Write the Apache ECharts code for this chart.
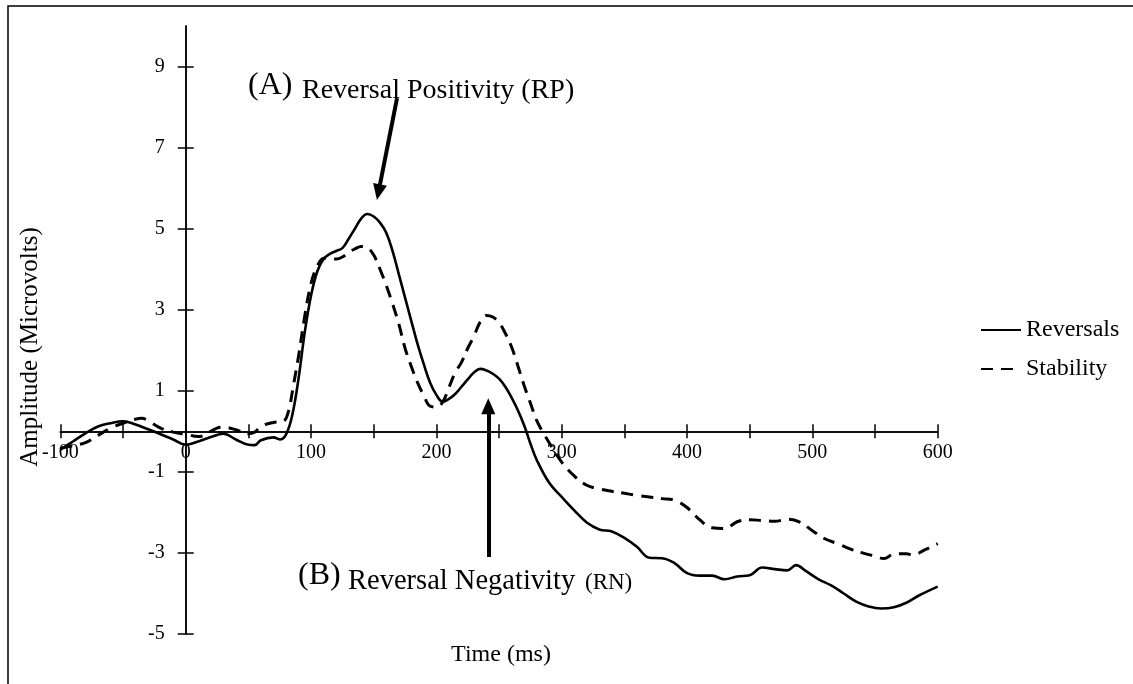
<!DOCTYPE html>
<html><head><meta charset="utf-8">
<script src="https://cdn.jsdelivr.net/npm/echarts@6/dist/echarts.min.js"></script>
<style>html,body{margin:0;padding:0;background:#fff}#c{width:1133px;height:684px}</style>
</head><body><div id="c"></div>
<script>
// ---- data ----
const revTime = [-100,-90,-80,-70,-60,-50,-40,-30,-20,-10,0,10,20,30,40,50,55,60,70,75,80,85,90,95,
  100,105,110,115,120,125,130,135,140,145,150,155,160,165,170,175,180,185,190,195,200,205,210,215,220,225,230,235,240,245,250,255,260,265,270,275,280,
  290,300,310,320,330,340,350,360,370,380,390,400,410,420,430,440,450,460,470,480,
  487,495,505,515,525,535,545,555,565,575,585,600];
const revAmp = [-0.45,-0.25,-0.05,0.12,0.2,0.25,0.17,0.05,-0.07,-0.2,-0.33,-0.25,-0.14,-0.06,-0.2,-0.33,-0.34,-0.22,-0.15,-0.2,-0.08,0.4,1.3,2.45,
  3.35,3.95,4.25,4.38,4.45,4.52,4.75,5.0,5.25,5.36,5.3,5.15,4.9,4.45,3.88,3.3,2.72,2.15,1.65,1.2,0.9,0.73,0.8,0.92,1.1,1.28,1.45,1.54,1.5,1.42,1.3,1.1,0.83,0.52,0.15,-0.3,-0.7,
  -1.27,-1.62,-1.95,-2.25,-2.42,-2.47,-2.63,-2.85,-3.12,-3.13,-3.25,-3.5,-3.56,-3.56,-3.65,-3.58,-3.55,-3.36,-3.4,-3.43,
  -3.3,-3.45,-3.65,-3.8,-4.0,-4.2,-4.32,-4.37,-4.34,-4.23,-4.05,-3.83];
const stabTime = [-100,-90,-80,-70,-60,-50,-40,-35,-30,-20,-10,0,10,20,25,30,40,50,55,60,70,78,82,86,
  90,95,100,105,110,115,120,125,130,135,140,145,150,155,160,165,170,175,180,185,190,195,200,205,210,215,220,225,230,235,240,245,250,255,260,265,270,275,280,285,290,
  300,310,320,330,340,350,360,370,380,390,400,410,420,430,440,450,460,470,480,490,500,510,520,530,540,550,
  557,565,575,580,590,600];
const stabAmp = [-0.42,-0.35,-0.28,-0.1,0.08,0.2,0.3,0.32,0.26,0.08,-0.02,-0.07,-0.13,0.0,0.08,0.1,0.04,-0.06,-0.02,0.12,0.22,0.25,0.5,1.15,
  1.85,2.85,3.65,4.08,4.27,4.28,4.25,4.3,4.42,4.5,4.56,4.53,4.35,4.0,3.6,3.15,2.65,2.05,1.6,1.2,0.88,0.62,0.6,0.72,1.08,1.45,1.7,2.05,2.35,2.7,2.86,2.82,2.68,2.42,2.08,1.62,1.13,0.7,0.27,-0.02,-0.28,
  -0.76,-1.1,-1.33,-1.42,-1.48,-1.53,-1.58,-1.62,-1.66,-1.7,-1.88,-2.18,-2.38,-2.4,-2.23,-2.18,-2.2,-2.22,-2.17,-2.24,-2.45,-2.65,-2.77,-2.9,-3.0,-3.08,
  -3.14,-3.03,-3.02,-3.05,-2.92,-2.77];
const yTicks = [-5,-3,-1,1,3,5,7,9];
const seriesNames = ['Reversals','Stability'];

const FONT = 'Liberation Serif';
const pair = (xs, ys) => xs.map((x,i)=>[x, ys[i]]);

// layout
const W = 1133, H = 684;
const G = {left:60.4, right:195.3, top:26, bottom:50};
const X_MIN = -100, X_MAX = 600, Y_MIN = -5, Y_MAX = 10;
const plotW = W - G.left - G.right, plotH = H - G.top - G.bottom;
// distance of the zero lines from the grid edges (axes cross at 0,0)
const zeroFromBottom = plotH * (0 - Y_MIN) / (Y_MAX - Y_MIN);
const zeroFromTop = plotH - zeroFromBottom;
const zeroFromLeft = plotW * (0 - X_MIN) / (X_MAX - X_MIN);
const zeroFromRight = plotW - zeroFromLeft;

const chart = echarts.init(document.getElementById('c'), null, {renderer:'canvas'});
const lineSt = {color:'#000', width:1.5};
const xBase = {type:'value', min:X_MIN, max:X_MAX, interval:50, splitLine:{show:false},
  axisLine:{show:true, onZero:false, lineStyle:lineSt}};
const yBase = {type:'value', min:Y_MIN, max:Y_MAX, splitLine:{show:false},
  axisLine:{show:true, onZero:false, lineStyle:lineSt}};
chart.setOption({
  animation:false,
  backgroundColor:'#fff',
  grid:Object.assign({containLabel:false}, G),
  xAxis:[
    Object.assign({}, xBase, {
      position:'bottom', offset:-zeroFromBottom,
      axisTick:{show:true, inside:false, length:7, lineStyle:lineSt},
      axisLabel:{show:true, margin:11, color:'#000', fontFamily:FONT, fontSize:20,
        formatter:v => (v % 100 === 0 ? String(v) : '')}
    }),
    Object.assign({}, xBase, {
      position:'top', offset:-zeroFromTop,
      axisTick:{show:true, inside:false, length:7, lineStyle:lineSt},
      axisLabel:{show:false}
    })
  ],
  yAxis:[
    Object.assign({}, yBase, {
      position:'left', offset:-zeroFromLeft,
      axisTick:{show:true, inside:false, length:8, customValues:yTicks, lineStyle:lineSt},
      axisLabel:{show:true, margin:21, color:'#000', fontFamily:FONT, fontSize:20, customValues:yTicks}
    }),
    Object.assign({}, yBase, {
      position:'right', offset:-zeroFromRight,
      axisTick:{show:true, inside:false, length:8, customValues:yTicks, lineStyle:lineSt},
      axisLabel:{show:false}
    })
  ],
  legend:{
    orient:'vertical', left:975, top:313, itemWidth:40, itemHeight:14, itemGap:15,
    itemStyle:{opacity:0},
    textStyle:{color:'#000', fontFamily:FONT, fontSize:24},
    data:seriesNames
  },
  series:[
    {
      name:seriesNames[0], type:'line', xAxisIndex:0, yAxisIndex:0,
      data:pair(revTime, revAmp), smooth:0.4, symbol:'none', showSymbol:false,
      lineStyle:{color:'#000', width:2.6}, itemStyle:{color:'#000'},
      emphasis:{disabled:true},
      markLine:{
        silent:true, symbol:['none','triangle'], symbolSize:[14,16],
        lineStyle:{color:'#000', width:4, type:'solid'},
        itemStyle:{color:'#000'},
        label:{show:false}, emphasis:{disabled:true},
        data:[
          [{coord:[168.6, 8.22]},{coord:[153.8, 5.90]}],
          [{coord:[241.4, -3.10]},{coord:[241.4, 0.62]}]
        ]
      }
    },
    {
      name:seriesNames[1], type:'line', xAxisIndex:0, yAxisIndex:0,
      data:pair(stabTime, stabAmp), smooth:0.4, symbol:'none', showSymbol:false,
      lineStyle:{color:'#000', width:3, type:[12,8]}, itemStyle:{color:'#000'},
      emphasis:{disabled:true}
    }
  ],
  graphic:[
    {type:'rect', silent:true, z:-1, shape:{x:8, y:6, width:1140, height:700},
      style:{fill:'none', stroke:'#000', lineWidth:1.5}},
    {type:'text', x:30.5, y:347, rotation:Math.PI/2, silent:true,
      style:{text:'Amplitude (Microvolts)', font:'25px "Liberation Serif"', fill:'#000', align:'center', verticalAlign:'middle'}},
    {type:'text', x:501, y:655, silent:true,
      style:{text:'Time (ms)', font:'24px "Liberation Serif"', fill:'#000', align:'center', verticalAlign:'middle'}},
    {type:'text', x:248, y:86, silent:true,
      style:{text:'(A)', font:'32px "Liberation Serif"', fill:'#000', align:'left', verticalAlign:'middle'}},
    {type:'text', x:302, y:90.5, silent:true,
      style:{text:'Reversal Positivity (RP)', font:'28px "Liberation Serif"', fill:'#000', align:'left', verticalAlign:'middle'}},
    {type:'text', x:298, y:576, silent:true,
      style:{text:'(B)', font:'32px "Liberation Serif"', fill:'#000', align:'left', verticalAlign:'middle'}},
    {type:'text', x:348, y:581.5, silent:true,
      style:{text:'Reversal Negativity', font:'28.5px "Liberation Serif"', fill:'#000', align:'left', verticalAlign:'middle'}},
    {type:'text', x:585, y:583, silent:true,
      style:{text:'(RN)', font:'23px "Liberation Serif"', fill:'#000', align:'left', verticalAlign:'middle'}}
  ]
});
</script>
</body></html>
